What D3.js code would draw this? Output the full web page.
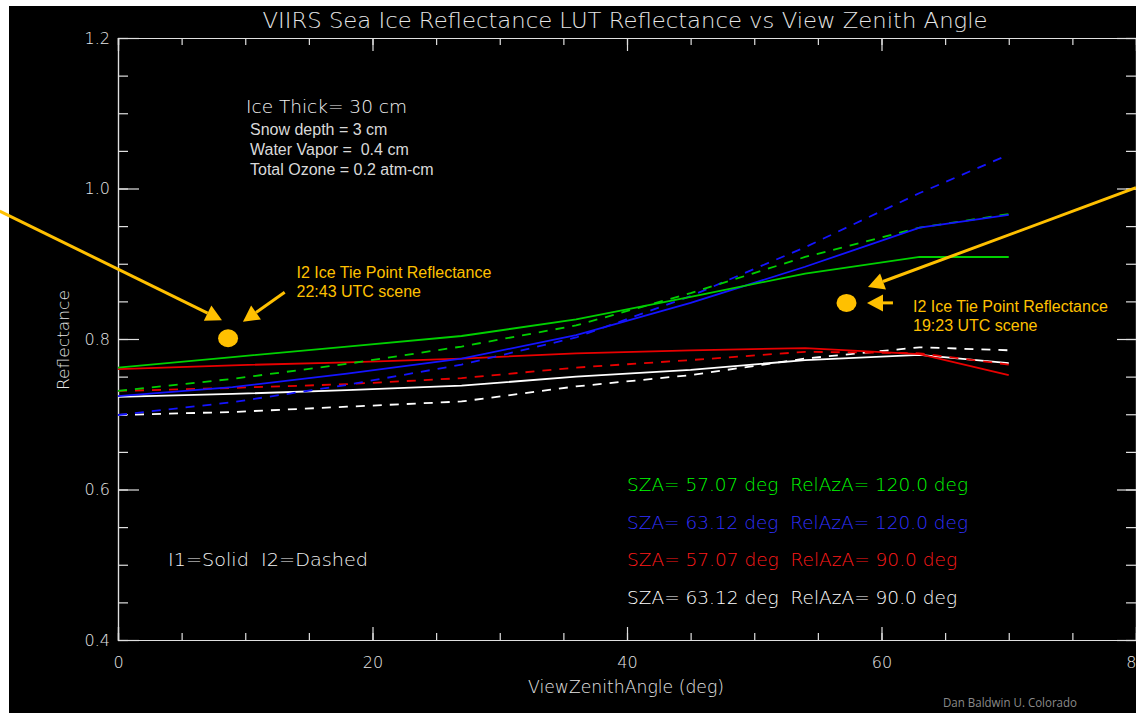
<!DOCTYPE html>
<html><head><meta charset="utf-8">
<script src="https://cdn.jsdelivr.net/npm/d3@7/dist/d3.min.js"></script>
<style>
html,body{margin:0;padding:0;background:#fff;}
svg{display:block;}
</style></head><body>
<svg id="c" width="1136" height="715"></svg>
<script>
// ---- data ----
const vza = [0, 9, 18, 27, 36, 45, 54, 63, 70];
const greenSolid = [0.762, 0.776, 0.790, 0.804, 0.826, 0.856, 0.887, 0.909, 0.909];
const blueSolid  = [0.724, 0.736, 0.754, 0.774, 0.805, 0.848, 0.896, 0.948, 0.965];
const redSolid   = [0.760, 0.765, 0.769, 0.774, 0.781, 0.785, 0.788, 0.780, 0.752];
const whiteSolid = [0.723, 0.727, 0.732, 0.738, 0.750, 0.759, 0.772, 0.779, 0.768];
const greenDash  = [0.731, 0.747, 0.767, 0.790, 0.818, 0.861, 0.909, 0.948, 0.966];
const blueDash   = [0.699, 0.716, 0.739, 0.766, 0.802, 0.857, 0.922, 0.994, 1.045];
const redDash    = [0.731, 0.735, 0.740, 0.748, 0.762, 0.772, 0.783, 0.781, 0.766];
const whiteDash  = [0.699, 0.703, 0.710, 0.717, 0.737, 0.752, 0.774, 0.789, 0.785];

const xMajorTicks = [0, 20, 40, 60, 80];
const xMinorTicks = d3.range(0, 81, 5);
const yMajorTicks = [0.4, 0.6, 0.8, 1.0, 1.2];
const yMinorTicks = d3.range(0.4, 1.2001, 0.05);
const yTickLabels = ["0.4", "0.6", "0.8", "1.0", "1.2"];

const legendLabels = [
  "SZA= 57.07 deg  RelAzA= 120.0 deg",
  "SZA= 63.12 deg  RelAzA= 120.0 deg",
  "SZA= 57.07 deg  RelAzA= 90.0 deg",
  "SZA= 63.12 deg  RelAzA= 90.0 deg"
];
const infoLines = ["Snow depth = 3 cm", "Water Vapor =  0.4 cm", "Total Ozone = 0.2 atm-cm"];

// tie points (VZA, reflectance)
const tiePointVza = [8.65, 57.25];
const tiePointRefl = [0.801, 0.848];
const tieLabels = [["I2 Ice Tie Point Reflectance", "22:43 UTC scene"],
                   ["I2 Ice Tie Point Reflectance", "19:23 UTC scene"]];
// arrows in data coords: [tailVza, tailRefl, tipVza, tipRefl]
const arrows = [
  [-9.3, 0.970, 8.17, 0.825],
  [13.1, 0.862, 9.82, 0.823],
  [80.0, 1.001, 58.94, 0.869],
  [60.9, 0.848, 58.86, 0.848]
];

// ---- drawing ----
const W = 1136, H = 715;
const svg = d3.select("#c");
const M = {left: 118, right: 1136, top: 38, bottom: 640};
const x = d3.scaleLinear().domain([0, 80]).range([M.left, M.right]);
const y = d3.scaleLinear().domain([0.4, 1.2]).range([M.bottom, M.top]);

svg.append("rect").attr("x", 0).attr("y", 0).attr("width", W).attr("height", H).attr("fill", "#fff");
svg.append("rect").attr("x", 9).attr("y", 6).attr("width", W - 9).attr("height", H - 8).attr("fill", "#000");

const hershey = "'DejaVu Sans', sans-serif";
const axisCol = "#e0e0e0";
const txtCol = "#e6e6e6";

function styleAxis(g) {
  g.select(".domain").attr("stroke", axisCol).attr("stroke-width", 1.2);
  g.selectAll(".tick line").attr("stroke", axisCol).attr("stroke-width", 1.2);
  g.selectAll(".tick text").attr("fill", txtCol).attr("font-family", hershey)
    .attr("font-size", 16).attr("font-weight", 200);
}

// bottom axis
svg.append("g").attr("transform", `translate(0,${M.bottom})`)
  .call(d3.axisBottom(x).tickValues(xMinorTicks).tickSize(-7).tickFormat("")).call(styleAxis);
svg.append("g").attr("transform", `translate(0,${M.bottom})`)
  .call(d3.axisBottom(x).tickValues(xMajorTicks).tickSize(-13).tickPadding(17).tickFormat(d3.format("d"))).call(styleAxis);
// top axis
svg.append("g").attr("transform", `translate(0,${M.top})`)
  .call(d3.axisTop(x).tickValues(xMinorTicks).tickSize(-7).tickFormat("")).call(styleAxis);
svg.append("g").attr("transform", `translate(0,${M.top})`)
  .call(d3.axisTop(x).tickValues(xMajorTicks).tickSize(-13).tickFormat("")).call(styleAxis);
// left axis
svg.append("g").attr("transform", `translate(${M.left},0)`)
  .call(d3.axisLeft(y).tickValues(yMinorTicks).tickSize(-10).tickFormat("")).call(styleAxis);
svg.append("g").attr("transform", `translate(${M.left},0)`)
  .call(d3.axisLeft(y).tickValues(yMajorTicks).tickSize(-21).tickPadding(8)
    .tickFormat((d, i) => yTickLabels[i])).call(styleAxis);
// right axis
svg.append("g").attr("transform", `translate(${M.right},0)`)
  .call(d3.axisRight(y).tickValues(yMinorTicks).tickSize(-10).tickFormat("")).call(styleAxis);
svg.append("g").attr("transform", `translate(${M.right},0)`)
  .call(d3.axisRight(y).tickValues(yMajorTicks).tickSize(-19).tickFormat("")).call(styleAxis);

// series
const series = [
  {v: greenSolid, c: "#00d000", dash: null},
  {v: greenDash,  c: "#00d000", dash: "9,8"},
  {v: blueSolid,  c: "#1414ff", dash: null},
  {v: blueDash,   c: "#1414ff", dash: "9,8"},
  {v: redSolid,   c: "#e80000", dash: null},
  {v: redDash,    c: "#e80000", dash: "9,8"},
  {v: whiteSolid, c: "#ffffff", dash: null},
  {v: whiteDash,  c: "#ffffff", dash: "9,8"}
];
const line = d3.line().x((d, i) => x(vza[i])).y(d => y(d));
const plot = svg.append("g");
[7, 6, 5, 4, 3, 1, 2, 0].forEach(k => {
  const s = series[k];
  plot.append("path").datum(s.v).attr("d", line).attr("fill", "none")
    .attr("stroke", s.c).attr("stroke-width", 1.8)
    .attr("stroke-dasharray", s.dash);
});

// title
svg.append("text").attr("x", 625).attr("y", 28).attr("text-anchor", "middle")
  .attr("font-family", hershey).attr("font-weight", 200).attr("font-size", 21).attr("fill", txtCol)
  .attr("textLength", 725).attr("lengthAdjust", "spacingAndGlyphs")
  .text("VIIRS Sea Ice Reflectance LUT Reflectance vs View Zenith Angle");

// axis titles
svg.append("text").attr("x", 626).attr("y", 693).attr("text-anchor", "middle")
  .attr("font-family", hershey).attr("font-weight", 200).attr("font-size", 17).attr("fill", txtCol)
  .attr("textLength", 196).attr("lengthAdjust", "spacingAndGlyphs")
  .text("ViewZenithAngle (deg)");
svg.append("text").attr("transform", "translate(69,340) rotate(-90)").attr("text-anchor", "middle")
  .attr("font-family", hershey).attr("font-weight", 200).attr("font-size", 16).attr("fill", txtCol)
  .attr("textLength", 100).attr("lengthAdjust", "spacingAndGlyphs")
  .text("Reflectance");

// info block
svg.append("text").attr("x", 246).attr("y", 113)
  .attr("font-family", hershey).attr("font-weight", 200).attr("font-size", 18).attr("fill", "#f4f4f4")
  .attr("textLength", 161).attr("lengthAdjust", "spacingAndGlyphs")
  .text("Ice Thick= 30 cm");
svg.append("g").selectAll("text").data(infoLines).join("text")
  .attr("x", 250).attr("y", (d, i) => 135 + i * 20)
  .attr("font-family", "'Liberation Sans', Arial, sans-serif").attr("font-size", 16)
  .attr("fill", "#d9d9d9").style("white-space", "pre").text(d => d);

svg.append("text").attr("x", 168).attr("y", 566)
  .attr("font-family", hershey).attr("font-weight", 200).attr("font-size", 17).attr("fill", "#f4f4f4")
  .attr("textLength", 200).attr("lengthAdjust", "spacingAndGlyphs").style("white-space", "pre")
  .text("I1=Solid  I2=Dashed");

// legend
const legendColors = ["#00ff00", "#3030ff", "#ff1a1a", "#ffffff"];
const legendWidths = [341, 341, 330, 330];
svg.append("g").selectAll("text").data(legendLabels).join("text")
  .attr("x", 627).attr("y", (d, i) => 491 + i * 37.6)
  .attr("font-family", hershey).attr("font-weight", 200).attr("font-size", 17)
  .attr("fill", (d, i) => legendColors[i])
  .attr("textLength", (d, i) => legendWidths[i]).attr("lengthAdjust", "spacingAndGlyphs")
  .style("white-space", "pre").text(d => d);

// tie points & arrows
const orange = "#ffc000";
const ann = svg.append("g");
tiePointVza.forEach((v, i) => {
  ann.append("ellipse").attr("cx", x(v)).attr("cy", y(tiePointRefl[i])).attr("rx", 10).attr("ry", 9).attr("fill", orange);
});
arrows.forEach(a => {
  const x1 = x(a[0]), y1 = y(a[1]), x2 = x(a[2]), y2 = y(a[3]);
  const ang = Math.atan2(y2 - y1, x2 - x1);
  const hl = 16, hw = 8.5;
  const bx = x2 - hl * Math.cos(ang), by = y2 - hl * Math.sin(ang);
  ann.append("line").attr("x1", x1).attr("y1", y1).attr("x2", bx).attr("y2", by)
    .attr("stroke", orange).attr("stroke-width", 3);
  const px = -Math.sin(ang) * hw, py = Math.cos(ang) * hw;
  ann.append("path").attr("d", `M${x2},${y2}L${bx + px},${by + py}L${bx - px},${by - py}Z`).attr("fill", orange);
});
const tieTextPos = [[296.5, 277.5], [913, 311.5]];
tieLabels.forEach((lines, i) => {
  lines.forEach((t, j) => {
    ann.append("text").attr("x", tieTextPos[i][0]).attr("y", tieTextPos[i][1] + j * 19.5)
      .attr("font-family", "'Liberation Sans', Arial, sans-serif").attr("font-size", 16)
      .attr("fill", orange).text(t);
  });
});

// credit
svg.append("text").attr("x", 943).attr("y", 707)
  .attr("font-family", "'Open Sans', sans-serif").attr("font-size", 12.5).attr("fill", "#8a8a8a")
  .attr("textLength", 134).attr("lengthAdjust", "spacingAndGlyphs")
  .text("Dan Baldwin U. Colorado");
</script>
</body></html>
